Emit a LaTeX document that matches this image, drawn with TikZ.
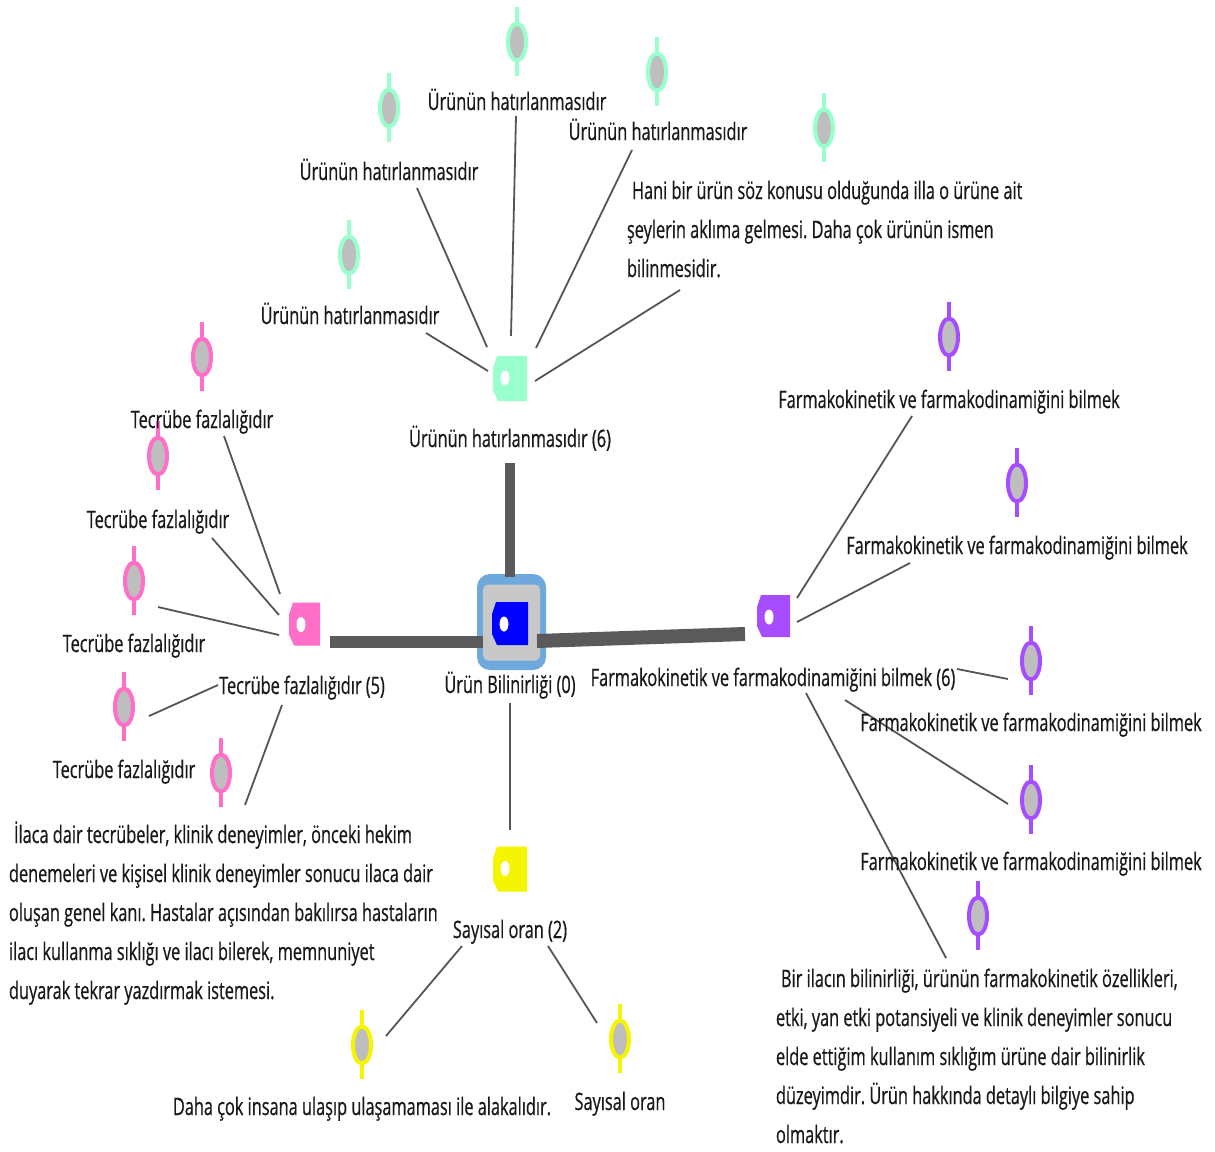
\documentclass[tikz,border=0pt]{standalone}
\usepackage{fontspec}
\setmainfont{Open Sans}[FakeStretch=0.68, FakeBold=0.6]
\usetikzlibrary{shapes.geometric}
\frenchspacing

\definecolor{mint}{RGB}{153,255,204}
\definecolor{rose}{RGB}{255,110,199}
\definecolor{violet}{RGB}{166,77,255}
\definecolor{lemon}{RGB}{245,245,0}
\definecolor{deepblue}{RGB}{0,0,255}
\definecolor{ringblue}{RGB}{111,168,220}
\definecolor{boxgray}{RGB}{200,200,200}
\definecolor{pingray}{RGB}{190,190,190}
\definecolor{linkgray}{RGB}{85,85,85}
\definecolor{trunkgray}{RGB}{90,90,90}
\definecolor{ink}{RGB}{25,25,25}

\tikzset{
  every node/.style={inner sep=0pt, outer sep=0pt},
  lbl/.style={font=\fontsize{24}{39}\selectfont, text=ink, anchor=base},
  mlbl/.style={font=\fontsize{24}{39}\selectfont, text=ink, anchor=base west},
  link/.style={draw=linkgray, line width=1.8pt},
  trunk/.style={draw=trunkgray, line cap=butt},
  tagbox/.style={minimum width=34pt, minimum height=45pt,
    path picture={
      \fill[#1] ([shift={(4,0)}]path picture bounding box.north west)
        -- (path picture bounding box.north east)
        -- (path picture bounding box.south east)
        -- ([shift={(5,0)}]path picture bounding box.south west)
        -- ([shift={(0,-11)}]path picture bounding box.south west)
        -- ([shift={(0,12)}]path picture bounding box.north west) -- cycle;
      \fill[white] ([shift={(12,22)}]path picture bounding box.north west)
        ellipse [x radius=4.5pt, y radius=7.5pt];
    }},
  pinhead/.style={ellipse, draw=#1, fill=pingray, line width=4pt,
    minimum width=18pt, minimum height=37pt},
}

% a document pin: stick plus ringed head
\newcommand\pinicon[4]{%
  \draw[draw=#2, line width=4.5pt] (#3,#4-35) -- (#3,#4+34);
  \node[pinhead=#2] (#1) at (#3,#4) {};
}

\begin{document}
\begin{tikzpicture}[x=1pt, y=-1pt]
\fill[white] (0,0) rectangle (1215,1151);
\useasboundingbox (0,0) rectangle (1215,1151);

% ---------- connector end points ----------
% green branch
\coordinate (g1a) at (516,116);  \coordinate (g1b) at (511,336);
\coordinate (g2a) at (632,150);  \coordinate (g2b) at (536,348);
\coordinate (g3a) at (417,188);  \coordinate (g3b) at (487,347);
\coordinate (g4a) at (426,333);  \coordinate (g4b) at (488,371);
\coordinate (g5a) at (680,290);  \coordinate (g5b) at (535,381);
% pink branch
\coordinate (p1a) at (224,436);  \coordinate (p1b) at (280,594);
\coordinate (p2a) at (212,538);  \coordinate (p2b) at (279,615);
\coordinate (p3a) at (158,607);  \coordinate (p3b) at (279,635);
\coordinate (p4a) at (149,716);  \coordinate (p4b) at (218,685);
\coordinate (p5a) at (245,805);  \coordinate (p5b) at (282,705);
% violet branch
\coordinate (u1a) at (912,416);  \coordinate (u1b) at (797,598);
\coordinate (u2a) at (910,563);  \coordinate (u2b) at (797,622);
\coordinate (u3a) at (1008,679); \coordinate (u3b) at (957,669);
\coordinate (u4a) at (1008,804); \coordinate (u4b) at (845,700);
\coordinate (u5a) at (946,958);  \coordinate (u5b) at (806,693);
% yellow branch
\coordinate (y1a) at (386,1036); \coordinate (y1b) at (462,946);
\coordinate (y2a) at (597,1023); \coordinate (y2b) at (548,946);
\coordinate (y0a) at (510,830);  \coordinate (y0b) at (510,703);
% trunks
\coordinate (tga) at (510,463);  \coordinate (tgb) at (510,577);
\coordinate (tpa) at (330,642);  \coordinate (tpb) at (483,642);
\coordinate (tua) at (745,634);  \coordinate (tub) at (537,641);

% ---------- thin connectors ----------
\foreach \a/\b in {g1a/g1b,g2a/g2b,g3a/g3b,g4a/g4b,g5a/g5b,
                   p1a/p1b,p2a/p2b,p3a/p3b,p4a/p4b,p5a/p5b,
                   u1a/u1b,u2a/u2b,u3a/u3b,u4a/u4b,u5a/u5b,
                   y1a/y1b,y2a/y2b,y0a/y0b}
  \draw[link] (\a) -- (\b);

% ---------- central topic ----------
\node[fill=ringblue, rounded corners=13pt, minimum width=69pt, minimum height=96pt] (cring) at (511.5,622) {};
\node[fill=boxgray, rounded corners=5pt, minimum width=57pt, minimum height=76pt] (cbox) at (511.5,622.5) {};
\node[tagbox=deepblue, minimum width=36pt, minimum height=43pt] (ctag) at (510,623.5) {};

% ---------- trunks ----------
\draw[trunk, line width=10pt] (tga) -- (tgb);
\draw[trunk, line width=12pt] (tpa) -- (tpb);
\draw[trunk, line width=14pt] (tua) -- (tub);

% ---------- branch tags ----------
\node[tagbox=mint] (gtag) at (510,378.5) {};
\node[tagbox=rose, minimum width=31pt, minimum height=43pt] (ptag) at (304.5,624) {};
\node[tagbox=violet, minimum width=33pt, minimum height=42pt] (utag) at (773.5,616) {};
\node[tagbox=lemon] (ytag) at (510,869) {};

% ---------- pins ----------
\pinicon{gp1}{mint}{517}{42}
\pinicon{gp2}{mint}{657}{72}
\pinicon{gp3}{mint}{389}{108}
\pinicon{gp4}{mint}{349}{255}
\pinicon{gp5}{mint}{824}{128}
\pinicon{pp1}{rose}{202}{357}
\pinicon{pp2}{rose}{158}{456}
\pinicon{pp3}{rose}{134}{581}
\pinicon{pp4}{rose}{124}{707}
\pinicon{pp5}{rose}{221}{773}
\pinicon{up1}{violet}{949}{337}
\pinicon{up2}{violet}{1017}{483}
\pinicon{up3}{violet}{1031}{661}
\pinicon{up4}{violet}{1031}{800}
\pinicon{up5}{violet}{978}{916}
\pinicon{yp1}{lemon}{362}{1045}
\pinicon{yp2}{lemon}{620}{1039}

% ---------- labels ----------
\node[lbl] (clbl) at (510,693) {Ürün Bilinirliği (0)};

\node[lbl] (glbl) at (510,447) {Ürünün hatırlanmasıdır (6)};
\node[lbl] (gl1) at (517,110) {Ürünün hatırlanmasıdır};
\node[lbl] (gl2) at (658,140) {Ürünün hatırlanmasıdır};
\node[lbl] (gl3) at (389,180) {Ürünün hatırlanmasıdır};
\node[lbl] (gl4) at (350,324) {Ürünün hatırlanmasıdır};
\node[mlbl] (gl5) at (627,199) {\begin{tabular}[t]{@{}l@{}}\hspace{5pt}Hani bir ürün söz konusu olduğunda illa o ürüne ait\\şeylerin aklıma gelmesi. Daha çok ürünün ismen\\bilinmesidir.\end{tabular}};

\node[lbl] (plbl) at (302,694) {Tecrübe fazlalığıdır (5)};
\node[lbl] (pl1) at (202,428) {Tecrübe fazlalığıdır};
\node[lbl] (pl2) at (158,528) {Tecrübe fazlalığıdır};
\node[lbl] (pl3) at (134,652) {Tecrübe fazlalığıdır};
\node[lbl] (pl4) at (124,778) {Tecrübe fazlalığıdır};
\node[mlbl] (pl5) at (9,843) {\begin{tabular}[t]{@{}l@{}}\hspace{5pt}İlaca dair tecrübeler, klinik deneyimler, önceki hekim\\denemeleri ve kişisel klinik deneyimler sonucu ilaca dair\\oluşan genel kanı. Hastalar açısından bakılırsa hastaların\\ilacı kullanma sıklığı ve ilacı bilerek, memnuniyet\\duyarak tekrar yazdırmak istemesi.\end{tabular}};

\node[lbl] (ulbl) at (773,686) {Farmakokinetik ve farmakodinamiğini bilmek (6)};
\node[lbl] (ul1) at (949,408) {Farmakokinetik ve farmakodinamiğini bilmek};
\node[lbl] (ul2) at (1017,554) {Farmakokinetik ve farmakodinamiğini bilmek};
\node[lbl] (ul3) at (1031,731) {Farmakokinetik ve farmakodinamiğini bilmek};
\node[lbl] (ul4) at (1031,870) {Farmakokinetik ve farmakodinamiğini bilmek};
\node[mlbl] (ul5) at (776,987) {\begin{tabular}[t]{@{}l@{}}\hspace{5pt}Bir ilacın bilinirliği, ürünün farmakokinetik özellikleri,\\etki, yan etki potansiyeli ve klinik deneyimler sonucu\\elde ettiğim kullanım sıklığım ürüne dair bilinirlik\\düzeyimdir. Ürün hakkında detaylı bilgiye sahip\\olmaktır.\end{tabular}};

\node[lbl] (ylbl) at (510,938) {Sayısal oran (2)};
\node[lbl] (yl1) at (362,1115) {Daha çok insana ulaşıp ulaşamaması ile alakalıdır.};
\node[lbl] (yl2) at (620,1110) {Sayısal oran};
\end{tikzpicture}
\end{document}
